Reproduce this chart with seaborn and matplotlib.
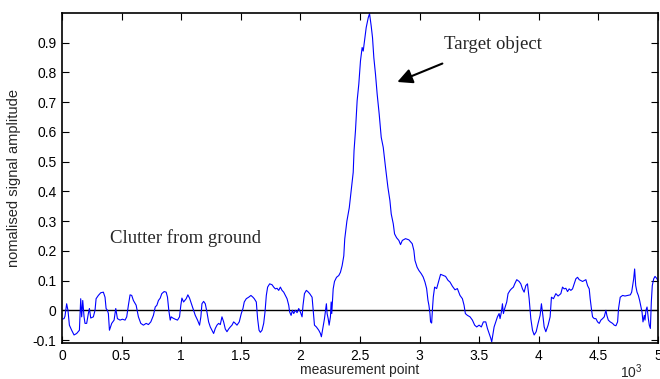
import numpy as np
import pandas as pd
import seaborn as sns
import matplotlib.pyplot as plt

clutter_left_x = [0, 17, 25, 39, 50, 62, 81, 101, 123, 146, 157, 165, 174, 185, 193, 207, 221, 230, 241, 263,
                  277, 286, 305, 325, 347, 361, 370, 381, 389, 398, 417, 437, 451, 465, 487, 507, 529, 543, 557, 571,
                  585, 599, 622, 641, 661, 683, 706, 725, 745, 767, 782, 796, 809, 824,
                  837, 857, 874, 885, 896, 908, 916, 930, 950, 969, 986, 997, 1006, 1020, 1042, 1056, 1070, 1090, 1104, 1118,
                  1137, 1154, 1165, 1174, 1188, 1202, 1216, 1230, 1244, 1258, 1272, 1286, 1300, 1314, 1328, 1342, 1356, 1370, 1384, 1398,
                  1412, 1426, 1440, 1454, 1468, 1487, 1504, 1518, 1529, 1546, 1566, 1585, 1602, 1613, 1630, 1641, 1653, 1664,
                  1678, 1692, 1703, 1714, 1725, 1742, 1762, 1776, 1790, 1804, 1818, 1832, 1846, 1860, 1874, 1888, 1902, 1910, 1922, 1933,
                  1944, 1958, 1972, 1986, 2000, 2014, 2022, 2034, 2050, 2062, 2078, 2098, 2106, 2118, 2134, 2154, 2168, 2176, 2190, 2202,
                  2213, 2218, 2224, 2233, 2241, 2252, 2258, 2263, 2269, 2275, 2286, 2303, 2322, 2336, 2350]
clutter_left_y = [-0.03, -0.028, -0.02, 0.022, 0.0, -0.05, -0.067, -0.083, -0.078, -0.067, 0.039, -0.022, 0.033, -0.022, -0.044, -0.044, -0.011, 0.006, -0.026, -0.022,
                  0.0, 0.039, 0.05, 0.059, 0.061, 0.044, 0.006, 0.0, -0.011, -0.067, -0.044, -0.033, 0.006, -0.028, -0.033, -0.03, -0.033, -0.022, 0.017, 0.052,
                  0.05, 0.033, 0.017, -0.022, -0.044, -0.05, -0.044, -0.048, -0.039, -0.017, 0.011, 0.017, 0.033, 0.041,
                  0.056, 0.063, 0.061, 0.044, 0.0, -0.033, -0.022, -0.026, -0.03, -0.033, -0.022, 0.017, 0.041, 0.028, 0.039, 0.052, 0.041, 0.017, 0.0, -0.017,
                  -0.033, -0.05, -0.022, 0.022, 0.03, 0.022, -0.006, -0.039, -0.056, -0.067, -0.078, -0.061, -0.05, -0.044, -0.048, -0.022, -0.039, -0.063, -0.072, -0.063,
                  -0.056, -0.05, -0.039, -0.044, -0.05, -0.039, -0.011, 0.006, 0.028, 0.039, 0.044, 0.05, 0.044, 0.039, 0.028, -0.028, -0.067, -0.074,
                  -0.067, -0.044, -0.006, 0.05, 0.078, 0.089, 0.086, 0.078, 0.072, 0.074, 0.067, 0.078, 0.067, 0.061, 0.05, 0.039, 0.017, -0.006, -0.017, 0.0,
                  -0.011, 0.0, -0.008, 0.006, -0.006, -0.022, 0.017, 0.056, 0.067, 0.063, 0.056, 0.044, 0.006, -0.05, -0.056, -0.067, -0.078, -0.089, -0.056, -0.028,
                  0.006, 0.022, -0.011, -0.028, -0.05, -0.022, 0.028, -0.011, 0.033, 0.072, 0.097, 0.111, 0.117, 0.128, 0.15]

target_x = [2364, 2372, 2390, 2410, 2429, 2443, 2450, 2462, 2476, 2490, 2504, 2518, 2527, 2538, 2552, 2569, 2580, 2594, 2605, 2616,
            2630, 2644, 2661, 2678, 2695, 2714, 2734, 2751, 2762, 2779, 2790, 2807, 2826, 2840, 2855, 2882, 2910, 2938, 2952, 2961,
            2979, 2994, 3014, 3030, 3045, 3059, 3070, 3078, 3087, 3092, 3101, 3109, 3115, 3126, 3143, 3162, 3176, 3199, 3218, 3238,
            3255, 3275, 3297, 3317, 3339]
target_y = [0.183, 0.24, 0.30, 0.345, 0.414, 0.464, 0.537, 0.604, 0.705, 0.761, 0.839, 0.884, 0.872, 0.906, 0.951, 0.984, 0.998, 0.956, 0.917, 0.85,
            0.794, 0.727, 0.66, 0.582, 0.548, 0.481, 0.414, 0.369, 0.324, 0.291, 0.257, 0.244, 0.235, 0.221, 0.235, 0.241, 0.237, 0.224, 0.201, 0.168,
            0.145, 0.134, 0.123, 0.112, 0.095, 0.073, 0.034, 0.017, -0.011, -0.039, -0.043, 0.011, 0.045, 0.078, 0.073, 0.101, 0.121, 0.117, 0.114, 0.101,
            0.095, 0.081, 0.069, 0.073, 0.05]

clutter_right_x = [3359, 3373, 3384, 3401, 3423, 3443, 3462, 3479, 3499, 3518, 3535, 3555, 3569, 3583, 3597, 3605, 3616, 3625, 3639, 3653,
                   3667, 3675, 3686, 3695, 3703, 3714, 3731, 3742, 3759, 3770, 3787, 3798, 3815, 3835, 3849, 3863, 3877, 3891, 3905, 3919,
                   3933, 3947, 3961, 3978, 3994, 4011, 4022, 4034, 4045, 4059, 4078, 4095, 4106, 4123, 4143, 4162, 4185,
                   4199, 4213, 4227, 4241, 4255, 4269, 4283, 4297, 4311, 4325, 4339, 4353, 4367, 4381, 4395, 4409, 4423, 4431, 4443, 4451,
                   4465, 4479, 4493, 4507, 4521, 4535, 4549, 4563, 4571, 4583, 4599, 4619, 4633, 4647, 4661, 4669, 4683, 4703, 4723, 4745,
                   4768, 4779, 4787, 4796, 4804, 4813, 4824, 4835, 4846, 4857, 4866, 4874, 4885, 4891, 4899, 4908, 4919, 4927, 4936, 4944,
                   4952, 4964, 4975, 4992, 5000]
clutter_right_y = [0.039, 0.017, -0.011, -0.017, -0.022, -0.033, -0.05, -0.056, -0.05, -0.056, -0.039, -0.039, -0.061, -0.078, -0.094, -0.106, -0.078, -0.056, -0.039, -0.022,
                   -0.011, -0.028, -0.006, 0.022, -0.011, 0.006, 0.028, 0.056, 0.067, 0.072, 0.078, 0.089, 0.103, 0.097, 0.089, 0.072, 0.061, 0.083, 0.089, 0.039,
                   -0.028, -0.067, -0.083, -0.072, -0.044, -0.017, 0.022, -0.017, -0.056, -0.072, -0.05, -0.022, 0.044, 0.039, 0.056, 0.048, 0.056,
                   0.078, 0.072, 0.074, 0.063, 0.072, 0.067, 0.072, 0.089, 0.106, 0.111, 0.103, 0.1, 0.097, 0.1, 0.103, 0.083, 0.072, 0.039, 0.0, -0.022,
                   -0.028, -0.028, -0.039, -0.044, -0.033, -0.028, -0.022, 0.0, -0.017, -0.033, -0.039, -0.044, -0.05, -0.052, -0.039, 0.006, 0.044, 0.05, 0.048, 0.05,
                   0.052, 0.061, 0.083, 0.106, 0.139, 0.083, 0.061, 0.05, 0.033, 0.011, -0.006, -0.039, -0.017, -0.033, 0.0, 0.011, -0.028, -0.05, -0.061, 0.028,
                   0.083, 0.106, 0.114, 0.106, 0.097]

x_ticks = [0, 500, 1000, 1500, 2000, 2500, 3000, 3500, 4000, 4500, 5000]
x_ticklabels = ['0', '0.5', '1', '1.5', '2', '2.5', '3', '3.5', '4', '4.5', '5']
y_ticks = [-0.1, 0, 0.1, 0.2, 0.3, 0.4, 0.5, 0.6, 0.7, 0.8, 0.9]
y_ticklabels = ['-0.1', '0', '0.1', '0.2', '0.3', '0.4', '0.5', '0.6', '0.7', '0.8', '0.9']

sns.set_style("ticks")
plt.rcParams['font.family'] = ['Liberation Sans', 'DejaVu Sans']
plt.rcParams['mathtext.fontset'] = 'custom'
plt.rcParams['mathtext.rm'] = 'Liberation Sans'

df = pd.DataFrame({'point': clutter_left_x + target_x + clutter_right_x,
                   'amp': clutter_left_y + target_y + clutter_right_y})

fig = plt.figure(figsize=(6.6, 3.79), dpi=100)
ax = fig.add_axes([62/660, 1 - 343/379, 596/660, 330/379])

sns.lineplot(data=df, x='point', y='amp', estimator=None, sort=False,
             color='#0000ff', linewidth=0.8, ax=ax)
ax.axhline(0, color='black', linewidth=1.0, zorder=1)

ax.set_xlim(0, 5000)
ax.set_ylim(-0.11, 1.0)
ax.set_xticks(x_ticks)
ax.set_xticklabels(x_ticklabels)
ax.set_yticks(y_ticks)
ax.set_yticklabels(y_ticklabels)
ax.tick_params(direction='in', length=5, width=0.8, top=True, right=True,
               labelsize=10, pad=4, colors='black')
for s in ax.spines.values():
    s.set_visible(True)
    s.set_linewidth(1.2)
    s.set_color('black')

ax.set_xlabel('measurement point', fontsize=10)
ax.set_ylabel('nomalised signal amplitude', fontsize=10.5)
ax.xaxis.set_label_coords(0.5, -0.062)
ax.yaxis.set_label_coords(-0.068, 0.5)
ax.text(0.936, -0.058, r'$\mathregular{10^3}$', transform=ax.transAxes,
        fontsize=10, va='top', ha='left')

ax.text(3202, 0.893, 'Target object', fontsize=13.5, family='Liberation Serif',
        va='center', ha='left')
ax.annotate('', xy=(2813, 0.768), xytext=(3191, 0.83),
            arrowprops=dict(arrowstyle='-|>,head_length=0.9,head_width=0.45',
                            color='black', lw=1.5, shrinkA=0, shrinkB=0))
ax.text(403, 0.242, 'Clutter from ground', fontsize=13.5, family='Liberation Serif',
        va='center', ha='left')

plt.savefig('out.png', dpi=100)
